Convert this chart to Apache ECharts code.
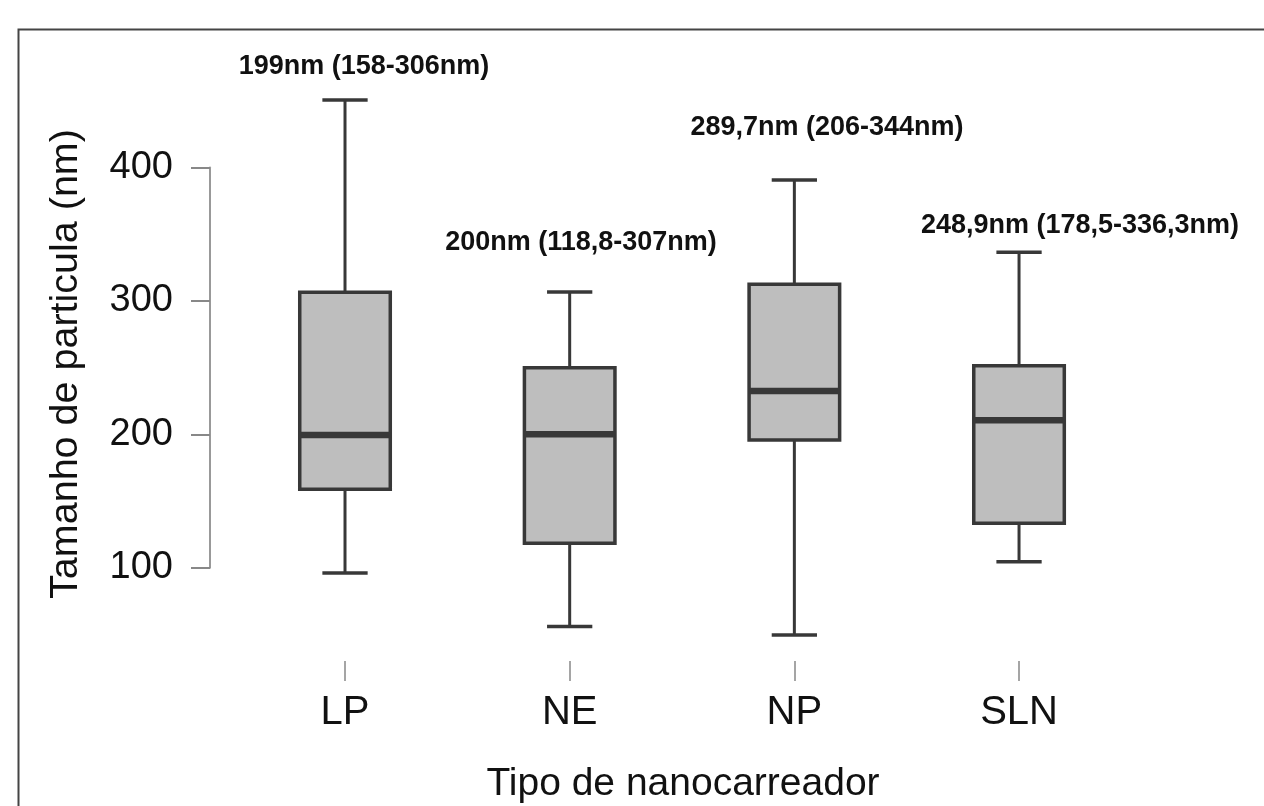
<!DOCTYPE html>
<html>
<head>
<meta charset="utf-8">
<script src="https://cdn.jsdelivr.net/npm/echarts@6/dist/echarts.min.js"></script>
<style>
html,body{margin:0;padding:0;background:#fff;}
#chart{width:1264px;height:806px;}
</style>
</head>
<body>
<div id="chart"></div>
<script>
// ---- data ----
const categories = ['LP', 'NE', 'NP', 'SLN'];
const whiskerLow = [96, 56, 49.5, 104.5];
const q1 = [158.8, 118.3, 195.7, 133.3];
const median = [199.5, 200, 232.5, 210.5];
const q3 = [306.5, 250, 312.5, 251.5];
const whiskerHigh = [450.7, 306.7, 390.7, 336.5];
const annotations = ['199nm (158-306nm)', '200nm (118,8-307nm)', '289,7nm (206-344nm)', '248,9nm (178,5-336,3nm)'];
const yTicks = [100, 200, 300, 400];

const FONT = 'Liberation Sans, Arial, Helvetica, sans-serif';
const chart = echarts.init(document.getElementById('chart'), null, {renderer: 'canvas'});

const boxData = categories.map((c, i) => [c, whiskerLow[i], q1[i], median[i], q3[i], whiskerHigh[i]]);

// annotation anchor points (layout, pixels)
const annPos = [[364, 67], [581, 243], [827, 128], [1080, 226]];

const option = {
  backgroundColor: '#fff',
  animation: false,
  grid: [
    {left: 210, top: 167.6, height: 400.1, width: 10},
    {left: 232.67, top: 60.9, height: 600.2, width: 898.7}
  ],
  xAxis: [
    {gridIndex: 0, type: 'value', show: false},
    {
      gridIndex: 1, type: 'category', data: categories, boundaryGap: true,
      axisLine: {show: false},
      splitLine: {show: false},
      axisTick: {show: true, alignWithLabel: true, length: 20, lineStyle: {color: '#888', width: 1.5}},
      axisLabel: {fontSize: 40, color: '#111', margin: 32, fontFamily: FONT}
    }
  ],
  yAxis: [
    {
      gridIndex: 0, type: 'value', min: yTicks[0], max: yTicks[yTicks.length - 1], interval: 100,
      axisLine: {show: true, lineStyle: {color: '#999', width: 2}},
      axisTick: {show: true, length: 19, lineStyle: {color: '#888', width: 2}},
      axisLabel: {fontSize: 38, color: '#111', margin: 37, fontFamily: FONT},
      splitLine: {show: false}
    },
    {gridIndex: 1, type: 'value', min: 30, max: 480, show: false}
  ],
  series: [{
    type: 'custom',
    xAxisIndex: 1,
    yAxisIndex: 1,
    clip: false,
    data: boxData,
    encode: {x: 0, y: [1, 2, 3, 4, 5]},
    renderItem: function (params, api) {
      const x = api.value(0);
      const pLow = api.coord([x, api.value(1)]);
      const pQ1 = api.coord([x, api.value(2)]);
      const pMed = api.coord([x, api.value(3)]);
      const pQ3 = api.coord([x, api.value(4)]);
      const pHigh = api.coord([x, api.value(5)]);
      const w = api.size([1, 0])[0] * 0.403;
      const hw = w / 2, cw = w / 4;
      const stroke = '#383838';
      return {
        type: 'group',
        children: [
          {type: 'line', shape: {x1: pQ3[0], y1: pQ3[1], x2: pHigh[0], y2: pHigh[1]}, style: {stroke: stroke, lineWidth: 3}},
          {type: 'line', shape: {x1: pLow[0], y1: pLow[1], x2: pQ1[0], y2: pQ1[1]}, style: {stroke: stroke, lineWidth: 3}},
          {type: 'line', shape: {x1: pHigh[0] - cw, y1: pHigh[1], x2: pHigh[0] + cw, y2: pHigh[1]}, style: {stroke: stroke, lineWidth: 3.5}},
          {type: 'line', shape: {x1: pLow[0] - cw, y1: pLow[1], x2: pLow[0] + cw, y2: pLow[1]}, style: {stroke: stroke, lineWidth: 3.5}},
          {type: 'rect', shape: {x: pQ3[0] - hw, y: pQ3[1], width: w, height: pQ1[1] - pQ3[1]}, style: {fill: '#bebebe', stroke: stroke, lineWidth: 3.5}},
          {type: 'line', shape: {x1: pMed[0] - hw, y1: pMed[1], x2: pMed[0] + hw, y2: pMed[1]}, style: {stroke: stroke, lineWidth: 6.5}}
        ]
      };
    }
  }],
  graphic: [
    {type: 'rect', left: 16, top: 27, shape: {width: 1400, height: 1000}, style: {fill: 'none', stroke: '#444', lineWidth: 2}, silent: true},
    {
      type: 'text', x: 66, y: 364, rotation: Math.PI / 2,
      style: {text: 'Tamanho de particula (nm)', fontSize: 39.5, fontFamily: FONT, fill: '#111', align: 'center', verticalAlign: 'middle'}
    },
    {
      type: 'text', x: 683, y: 784,
      style: {text: 'Tipo de nanocarreador', fontSize: 39, fontFamily: FONT, fill: '#111', align: 'center', verticalAlign: 'middle'}
    }
  ].concat(annotations.map((t, i) => ({
    type: 'text', x: annPos[i][0], y: annPos[i][1],
    style: {text: t, fontSize: 27, fontWeight: 'bold', fontFamily: FONT, fill: '#111', align: 'center', verticalAlign: 'middle'}
  })))
};
chart.setOption(option);
</script>
</body>
</html>
